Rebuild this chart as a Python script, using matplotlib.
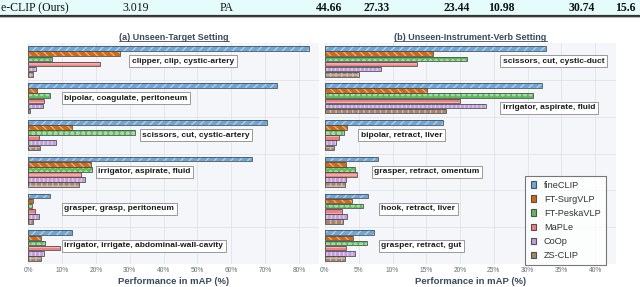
import numpy as np
import matplotlib.pyplot as plt
from matplotlib.patches import Rectangle, Patch
from matplotlib.lines import Line2D
from matplotlib.colors import to_rgb

plt.rcParams['font.family'] = ['Liberation Sans', 'DejaVu Sans']
plt.rcParams['hatch.linewidth'] = 1.0

methods = ['fineCLIP', 'FT-SurgVLP', 'FT-PeskaVLP', 'MaPLe', 'CoOp', 'ZS-CLIP']

# (a) unseen-target setting
triplets_a = ['clipper, clip, cystic-artery', 'bipolar, coagulate, peritoneum',
              'scissors, cut, cystic-artery', 'irrigator, aspirate, fluid',
              'grasper, grasp, peritoneum', 'irrigator, irrigate, abdominal-wall-cavity']
fineclip_a = [82.9, 73.5, 70.4, 66.2, 6.4, 12.9]
surgvlp_a = [27.2, 2.6, 12.9, 18.4, 1.5, 3.9]
peskavlp_a = [7.1, 6.3, 31.6, 18.7, 1.1, 4.8]
maple_a = [21.2, 4.6, 3.3, 15.7, 2.1, 9.5]
coop_a = [2.4, 4.2, 8.1, 16.8, 3.3, 4.7]
zsclip_a = [1.4, 0.6, 3.6, 15.1, 1.5, 3.8]

# (b) unseen-instrument-verb setting
triplets_b = ['scissors, cut, cystic-duct', 'irrigator, aspirate, fluid',
              'bipolar, retract, liver', 'grasper, retract, omentum',
              'hook, retract, liver', 'grasper, retract, gut']
fineclip_b = [32.7, 32.1, 17.5, 7.8, 6.4, 7.3]
surgvlp_b = [16.0, 15.1, 3.3, 3.1, 4.0, 4.2]
peskavlp_b = [21.0, 30.8, 2.8, 4.4, 5.7, 6.2]
maple_b = [13.6, 20.0, 2.0, 4.7, 2.5, 3.1]
coop_b = [8.3, 23.8, 1.7, 3.1, 3.2, 4.4]
zsclip_b = [5.1, 17.9, 1.4, 3.0, 2.6, 2.9]

# table row cut off at the top of the picture
row_cells = ['e-CLIP (Ours)', '3.019', 'PA', '44.66', '27.33', '23.44', '10.98', '30.74', '15.6']
row_bold = [False, False, False, True, True, True, True, True, True]

# ---- styles / layout ----
colors = ['#6aa7dc', '#d4680f', '#5cbc5c', '#f07f7f', '#c29ddf', '#a8826f']
hatches = ['////', '\\\\\\\\', 'ooo', '---', '||||', '+++']
edge = '#505050'
title_col = '#3b4a5c'
cell_x_px = [1, 122, 220, 316, 363, 443, 488, 569, 615]
label_x_a = [30, 10, 33, 20, 10, 10]
label_x_b = [26, 26, 5, 7, 8, 8]
label_row_b = [2.5, 4.4, 2.5, 2.5, 2.5, 2.5]

W, H = 640, 287
fig = plt.figure(figsize=(W / 100, H / 100), dpi=100)

# table strip
fig.patches.append(Rectangle((0, 1 - 14.5 / H), 1, 14.5 / H, transform=fig.transFigure,
                             color='#e4fcfc', zorder=0))
fig.add_artist(Line2D([0, 1], [1 - 15.5 / H] * 2, transform=fig.transFigure,
                      color='#333333', lw=1.6))
fig.add_artist(Line2D([0, 1], [1 - 17.0 / H] * 2, transform=fig.transFigure,
                      color='#bbbbbb', lw=0.8))
for txt, xp, b in zip(row_cells, cell_x_px, row_bold):
    fig.text(xp / W, 1 - 11 / H, txt, family='Liberation Serif', fontsize=8.5,
             fontweight='bold' if b else 'normal', va='baseline', ha='left', color='#111111')


def tint(c, f):
    r = np.array(to_rgb(c))
    return tuple(r + (1 - r) * f)


def panel(ax, series, labels, label_x, label_rows, xmax, step, title):
    n = len(labels)
    p = 0.139
    h = 0.125
    ys = np.arange(n)
    for i, vals in enumerate(series):
        y = ys + (i - 2.5) * p
        ax.barh(y, vals, height=h, color=colors[i], hatch=hatches[i],
                edgecolor=tint(colors[i], 0.45), lw=0, zorder=2)
        ax.barh(y, vals, height=h, fill=False, edgecolor=edge, lw=0.6, zorder=3)
    for g in range(n):
        ax.annotate(labels[g], xy=(label_x[g], g + (label_rows[g] - 2.5) * p),
                    xytext=(1.5, 0), textcoords='offset points', ha='left', va='center',
                    fontsize=6.0, fontweight='bold', color='#1a1a1a', zorder=5,
                    bbox=dict(boxstyle='square,pad=0.3', fc='white', ec='#9a9a9a', lw=0.7))
    ax.set_xlim(0, xmax)
    ax.set_ylim(n - 0.5, -0.5)
    ax.set_xticks(np.arange(0, xmax, step))
    ax.set_xticklabels(['%d%%' % v for v in np.arange(0, xmax, step)])
    ax.set_yticks(np.arange(n - 1) + 0.5)
    ax.set_yticklabels([])
    ax.tick_params(axis='both', length=0, labelsize=4.8, labelcolor='#666e78', pad=2.5)
    ax.set_facecolor('#f5f6f9')
    ax.grid(True, color='#e0e3e8', lw=0.6, zorder=0)
    ax.set_axisbelow(True)
    for s in ax.spines.values():
        s.set_visible(False)
    ax.set_xlabel('Performance in mAP (%)', fontsize=6.8, fontweight='bold',
                  color=title_col, labelpad=2)
    t = ax.set_title(title, fontsize=6.5, fontweight='bold', color=title_col, pad=2.5)
    return t


ax1 = fig.add_axes([28.3 / W, 1 - 264 / H, 291 / W, 221 / H])
ax2 = fig.add_axes([325 / W, 1 - 264 / H, 291 / W, 221 / H])

t1 = panel(ax1, [fineclip_a, surgvlp_a, peskavlp_a, maple_a, coop_a, zsclip_a],
           triplets_a, label_x_a, [2.5] * 6, 86, 10, '(a) Unseen-Target Setting')
t2 = panel(ax2, [fineclip_b, surgvlp_b, peskavlp_b, maple_b, coop_b, zsclip_b],
           triplets_b, label_x_b, label_row_b, 43.1, 5, '(b) Unseen-Instrument-Verb Setting')

handles = [Patch(facecolor=c, edgecolor=edge, lw=0.8) for c in colors]
leg = ax2.legend(handles, methods, loc='lower right', fontsize=6.6, frameon=True,
                 fancybox=False, edgecolor='#555555', handlelength=0.65, handleheight=0.65,
                 handletextpad=0.8, labelspacing=0.55, borderpad=0.55,
                 bbox_to_anchor=(0.98, -0.025), labelcolor='#333333')
leg.get_frame().set_linewidth(0.8)

# underline the panel titles
fig.canvas.draw()
inv = fig.transFigure.inverted()
for t in (t1, t2):
    bb = t.get_window_extent()
    (x0, y0), (x1, _) = inv.transform([(bb.x0, bb.y0), (bb.x1, bb.y0)])
    fig.add_artist(Line2D([x0, x1], [y0 + 0.5 / H] * 2, transform=fig.transFigure,
                          color=title_col, lw=0.6))

fig.savefig('out.png', dpi=100)
